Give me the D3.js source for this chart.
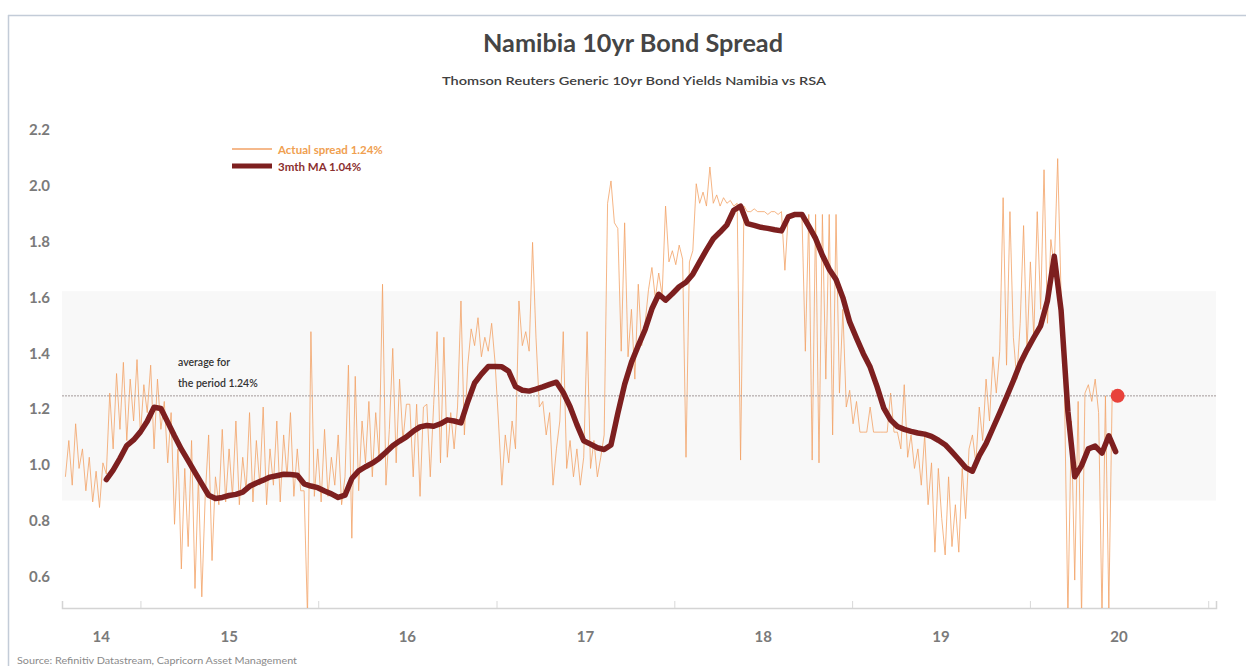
<!DOCTYPE html>
<html>
<head>
<meta charset="utf-8">
<script src="https://cdn.jsdelivr.net/npm/d3@7"></script>
<style>
  body { margin: 0; background: #ffffff; }
  svg { display: block; }
  text { font-family: Lato, "Open Sans", "DejaVu Sans", sans-serif; }
</style>
</head>
<body>
<svg id="chart" width="1246" height="666"></svg>
<script>
// ---- Data -------------------------------------------------------------
// Weekly Namibia-minus-RSA generic 10yr yield spread (percentage points)
const spreadStart = "2014-07-31";
const spreadStepDays = 7;
const spreadValues = [
  0.95, 1.08, 0.92, 1.14, 0.98, 1.05, 0.90, 1.02, 0.86, 0.97,
  0.84, 1.00, 0.96, 1.25, 1.05, 1.32, 1.12, 1.36, 1.08, 1.30,
  1.15, 1.37, 1.10, 1.28, 1.18, 1.35, 1.05, 1.30, 1.12, 1.22,
  1.00, 1.18, 0.78, 1.05, 0.62, 0.98, 0.70, 1.08, 0.55, 0.95,
  0.52, 0.88, 1.10, 0.65, 0.95, 0.85, 1.12, 0.86, 1.05, 0.88,
  1.15, 0.85, 1.02, 0.90, 1.18, 0.86, 1.08, 0.92, 1.20, 0.85,
  1.05, 0.92, 1.15, 0.86, 1.10, 0.95, 1.18, 0.88, 1.05, 0.90,
  0.90, 0.45, 1.47, 0.88, 1.05, 0.86, 1.12, 0.88, 1.02, 0.92,
  1.10, 0.85, 0.95, 1.35, 0.73, 1.31, 0.90, 1.15, 1.00, 1.22,
  0.95, 1.18, 1.02, 1.64, 0.92, 1.12, 1.41, 1.00, 1.30, 1.08,
  1.21, 1.21, 0.95, 1.21, 0.88, 1.20, 1.21, 0.95, 1.21, 1.47,
  1.00, 1.45, 1.02, 1.18, 1.05, 1.20, 1.58, 1.10, 1.35, 1.48,
  1.42, 1.52, 1.38, 1.45, 1.40, 1.50, 1.36, 1.15, 0.92, 1.10,
  1.00, 1.15, 1.05, 1.58, 1.42, 1.47, 1.40, 1.79, 1.45, 1.20,
  1.22, 1.10, 1.18, 0.92, 1.05, 1.15, 1.47, 0.98, 1.08, 0.95,
  1.05, 0.92, 1.02, 1.47, 0.98, 1.08, 0.95, 1.02, 1.10, 1.93,
  2.01, 1.86, 1.84, 1.40, 1.86, 1.38, 1.55, 1.30, 1.64, 1.42,
  1.50, 1.62, 1.70, 1.59, 1.68, 1.60, 1.92, 1.72, 1.76, 1.71,
  1.78, 1.73, 1.02, 1.72, 1.76, 2.00, 1.93, 1.97, 1.92, 2.06,
  1.93, 1.96, 1.92, 1.95, 1.93, 1.94, 1.92, 1.93, 1.01, 1.92,
  1.90, 1.90, 1.91, 1.90, 1.90, 1.90, 1.89, 1.90, 1.90, 1.89,
  1.90, 1.69, 1.89, 1.89, 1.89, 1.89, 1.89, 1.40, 1.89, 1.01,
  1.89, 1.00, 1.89, 1.30, 1.89, 1.10, 1.89, 1.25, 1.55, 1.20,
  1.26, 1.14, 1.22, 1.11, 1.11, 1.11, 1.20, 1.11, 1.11, 1.11,
  1.11, 1.11, 1.25, 1.11, 1.11, 1.05, 1.28, 1.02, 1.10, 0.98,
  1.05, 0.92, 1.10, 0.85, 1.00, 0.68, 0.98, 0.80, 0.67, 0.95,
  0.70, 0.85, 0.68, 0.98, 0.80, 1.05, 1.10, 1.00, 1.20, 1.08,
  1.30, 1.15, 1.38, 1.25, 1.40, 1.95, 1.35, 1.90, 1.45, 1.30,
  1.50, 1.85, 1.40, 1.72, 1.45, 1.90, 1.55, 2.05, 1.50, 1.80,
  1.70, 2.09, 1.60, 1.25, 0.45, 1.15, 0.58, 1.22, 0.45, 1.25,
  1.28, 1.22, 1.30, 1.18, 0.45, 1.24, 0.48, 1.26, 1.24
];

// Three-month moving average of the spread, sampled fortnightly
const maStart = "2014-10-23";
const maStepDays = 14;
const maValues = [
  0.940, 0.974, 1.016, 1.062, 1.082, 1.111, 1.149, 1.199, 1.195, 1.146,
  1.096, 1.049, 1.008, 0.966, 0.925, 0.884, 0.872, 0.876, 0.883, 0.887,
  0.895, 0.916, 0.928, 0.938, 0.949, 0.954, 0.959, 0.958, 0.956, 0.925,
  0.917, 0.911, 0.899, 0.889, 0.876, 0.884, 0.944, 0.971, 0.986, 0.999,
  1.016, 1.038, 1.061, 1.078, 1.093, 1.113, 1.129, 1.134, 1.131, 1.140,
  1.154, 1.150, 1.143, 1.219, 1.286, 1.318, 1.345, 1.345, 1.344, 1.328,
  1.273, 1.260, 1.257, 1.264, 1.272, 1.281, 1.289, 1.252, 1.201, 1.137,
  1.079, 1.067, 1.054, 1.048, 1.064, 1.177, 1.281, 1.360, 1.420, 1.477,
  1.552, 1.604, 1.583, 1.606, 1.631, 1.647, 1.676, 1.720, 1.763, 1.803,
  1.827, 1.853, 1.905, 1.920, 1.857, 1.851, 1.844, 1.840, 1.835, 1.831,
  1.881, 1.890, 1.890, 1.848, 1.804, 1.744, 1.694, 1.657, 1.592, 1.505,
  1.447, 1.391, 1.343, 1.274, 1.196, 1.154, 1.130, 1.120, 1.113, 1.107,
  1.103, 1.095, 1.081, 1.065, 1.039, 1.012, 0.983, 0.970, 1.026, 1.069,
  1.124, 1.179, 1.236, 1.294, 1.356, 1.405, 1.449, 1.491, 1.581, 1.740,
  1.546, 1.183, 0.950, 0.990, 1.050, 1.060, 1.035, 1.097, 1.040
];

const periodAverage = 1.24;          // mean spread over the whole period
const stdBand = [0.865, 1.615];      // one standard deviation either side
const latestSpread = 1.24;
const latestMA = 1.04;

const yTicks = [0.6, 0.8, 1.0, 1.2, 1.4, 1.6, 1.8, 2.0, 2.2];
const yearLabels = ["14", "15", "16", "17", "18", "19", "20"];
const labelYears = [2014, 2015, 2016, 2017, 2018, 2019, 2020];

// ---- Layout -------------------------------------------------------------
const svg = d3.select("#chart");
const plot = { left: 62, right: 1216, top: 100, bottom: 608 };

const parse = d3.utcParse("%Y-%m-%d");
const spread = spreadValues.map((v, i) => ({
  date: d3.utcDay.offset(parse(spreadStart), i * spreadStepDays), value: v
}));
const ma = maValues.map((v, i) => ({
  date: d3.utcDay.offset(parse(maStart), i * maStepDays), value: v
}));

const x = d3.scaleUtc()
  .domain([parse("2014-07-24"), parse("2021-01-17")])
  .range([plot.left, plot.right]);
const y = d3.scaleLinear()
  .domain([0.48, 2.3])
  .range([plot.bottom, plot.top]);

// Chart frame edges
svg.append("line").attr("x1", 8).attr("x2", 1246).attr("y1", 15.5).attr("y2", 15.5)
  .attr("stroke", "#c3ccd8").attr("stroke-width", 1.5);
svg.append("line").attr("x1", 8.5).attr("x2", 8.5).attr("y1", 15).attr("y2", 666)
  .attr("stroke", "#c3ccd8").attr("stroke-width", 1.5);

// Titles
svg.append("text").attr("x", 633).attr("y", 52).attr("text-anchor", "middle")
  .attr("font-size", 25).attr("font-weight", 700).attr("fill", "#454545")
  .attr("textLength", 300).attr("lengthAdjust", "spacingAndGlyphs")
  .text("Namibia 10yr Bond Spread");
svg.append("text").attr("x", 634).attr("y", 85).attr("text-anchor", "middle")
  .attr("font-size", 12).attr("font-weight", 600).attr("fill", "#404040")
  .attr("textLength", 384).attr("lengthAdjust", "spacingAndGlyphs")
  .text("Thomson Reuters Generic 10yr Bond Yields Namibia vs RSA");

// One-standard-deviation band
svg.append("rect")
  .attr("x", plot.left).attr("width", plot.right - plot.left)
  .attr("y", y(stdBand[1])).attr("height", y(stdBand[0]) - y(stdBand[1]))
  .attr("fill", "#f8f8f8");

// Y axis labels (no axis line)
const yAxis = d3.axisLeft(y).tickValues(yTicks).tickFormat(d3.format(".1f")).tickSize(0).tickPadding(0);
const gy = svg.append("g").attr("transform", "translate(50,2)").call(yAxis);
gy.select(".domain").remove();
gy.selectAll("text").attr("font-size", 15).attr("font-weight", 700).attr("fill", "#7a7a7a")
  .attr("font-family", "Lato, 'Open Sans', sans-serif");

// X axis: baseline, year ticks, labels centred in each year
const yearTicks = d3.utcYear.range(x.domain()[0], x.domain()[1]);
const xAxis = d3.axisBottom(x).tickValues(yearTicks).tickSize(-7).tickFormat("");
const gx = svg.append("g").attr("transform", `translate(0,${plot.bottom})`).call(xAxis);
gx.select(".domain").attr("stroke", "#d4d4d4").attr("stroke-width", 1.5);
gx.selectAll(".tick line").attr("stroke", "#d8d8d8");

const [d0, d1] = x.domain();
svg.append("g").selectAll("text").data(labelYears).join("text")
  .attr("x", yr => {
    const a = Math.max(x(Date.UTC(yr, 0, 1)), x(d0));
    const b = Math.min(x(Date.UTC(yr + 1, 0, 1)), x(d1));
    return (a + b) / 2;
  })
  .attr("y", 642).attr("text-anchor", "middle")
  .attr("font-size", 15).attr("font-weight", 700).attr("fill", "#7a7a7a")
  .text((yr, i) => yearLabels[i]);

// Series
svg.append("clipPath").attr("id", "plot-clip").append("rect")
  .attr("x", plot.left).attr("y", plot.top)
  .attr("width", plot.right - plot.left).attr("height", plot.bottom - plot.top);

const line = d3.line().x(d => x(d.date)).y(d => y(d.value));

svg.append("path").datum(spread)
  .attr("clip-path", "url(#plot-clip)")
  .attr("fill", "none").attr("stroke", "#f2a266").attr("stroke-opacity", 0.8)
  .attr("stroke-width", 1).attr("stroke-linejoin", "miter")
  .attr("d", line);

// Period average reference line
svg.append("line")
  .attr("x1", plot.left).attr("x2", plot.right)
  .attr("y1", y(periodAverage)).attr("y2", y(periodAverage))
  .attr("stroke", "#a39a9a").attr("stroke-width", 1).attr("stroke-dasharray", "2,1");

svg.append("path").datum(ma)
  .attr("fill", "none").attr("stroke", "#7d1f1f")
  .attr("stroke-width", 5.5).attr("stroke-linejoin", "round").attr("stroke-linecap", "round")
  .attr("d", line);

// Latest spread marker
const last = spread[spread.length - 1];
svg.append("circle").attr("cx", x(last.date) + 2).attr("cy", y(latestSpread)).attr("r", 7)
  .attr("fill", "#e8423b");

// Average annotation
svg.append("text").attr("x", 178).attr("y", 366).attr("font-size", 10.5)
  .attr("font-weight", 600).attr("fill", "#333333").text("average for");
svg.append("text").attr("x", 178).attr("y", 387).attr("font-size", 10.5)
  .attr("font-weight", 600).attr("fill", "#333333")
  .text(`the period ${d3.format(".2f")(periodAverage)}%`);

// Legend
svg.append("line").attr("x1", 232).attr("x2", 272).attr("y1", 149).attr("y2", 149)
  .attr("stroke", "#f2a266").attr("stroke-width", 1.5);
svg.append("text").attr("x", 278).attr("y", 153.5).attr("font-size", 11.5)
  .attr("font-weight", 700).attr("fill", "#f0a050")
  .text(`Actual spread ${d3.format(".2f")(latestSpread)}%`);
svg.append("line").attr("x1", 232).attr("x2", 272).attr("y1", 166).attr("y2", 166)
  .attr("stroke", "#7d1f1f").attr("stroke-width", 5);
svg.append("text").attr("x", 278).attr("y", 170.5).attr("font-size", 11.5)
  .attr("font-weight", 700).attr("fill", "#8b2f2f")
  .text(`3mth MA ${d3.format(".2f")(latestMA)}%`);

// Source note
svg.append("text").attr("x", 17).attr("y", 664).attr("font-size", 8.5)
  .attr("fill", "#8a8a8a")
  .attr("textLength", 280).attr("lengthAdjust", "spacingAndGlyphs")
  .text("Source: Refinitiv Datastream, Capricorn Asset Management");
</script>
</body>
</html>
